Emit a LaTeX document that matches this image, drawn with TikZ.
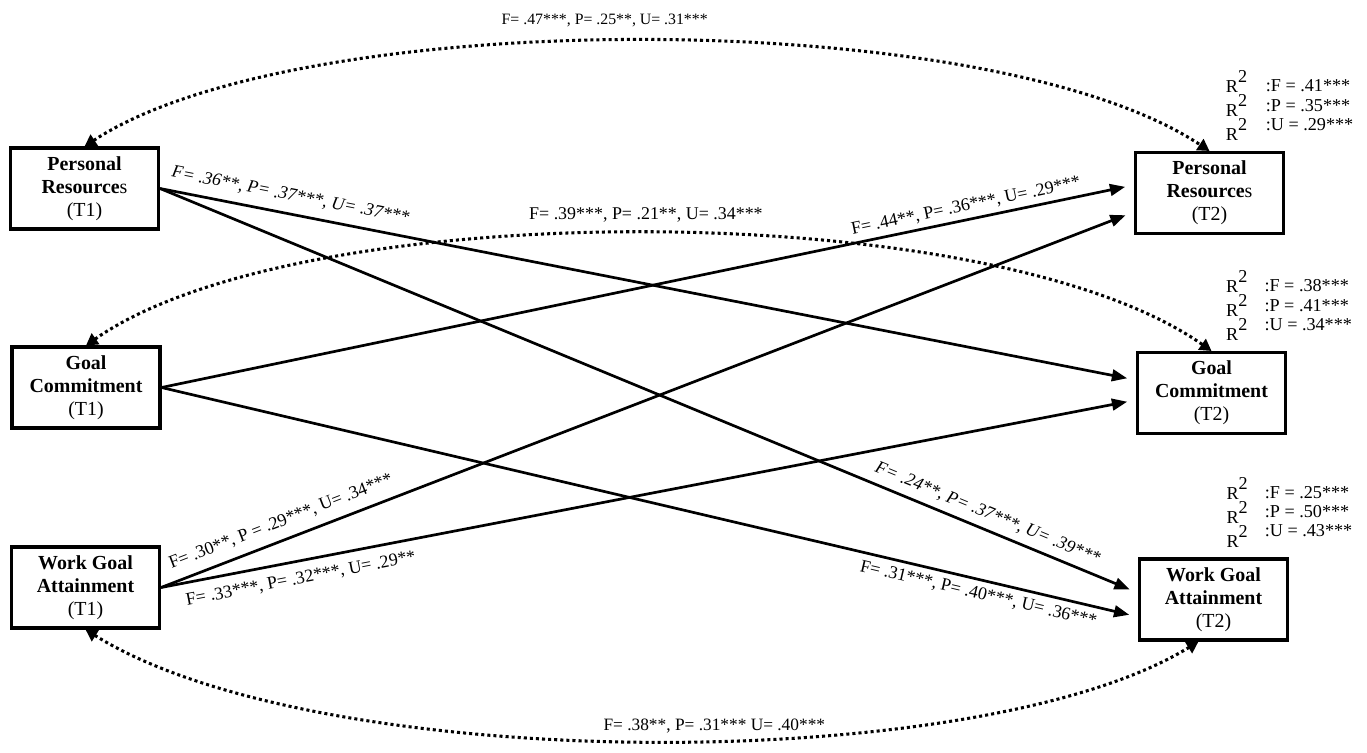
\documentclass[tikz,border=0pt]{standalone}
\usepackage{fontspec}
\setmainfont{Liberation Serif}
\usetikzlibrary{arrows.meta}

\begin{document}
\begin{tikzpicture}[x=0.03cm, y=-0.03cm,
  box/.style={draw, line width=2.6pt, minimum width=4.44cm, minimum height=2.43cm,
    align=center, inner sep=0pt, font=\fontsize{17}{19.6}\selectfont},
  effect/.style={line width=2.3pt, -{Triangle[length=13pt,width=10pt]}, shorten >=0.27cm},
  cov/.style={line width=2.6pt, dash pattern=on 2.6pt off 2.6pt,
    {Triangle[length=10pt,width=11pt]}-{Triangle[length=10pt,width=11pt]}},
  coef/.style={inner sep=0pt, font=\fontsize{15.3}{18}\selectfont},
  rsq/.style={inner sep=0pt, align=left, anchor=south west}]
\useasboundingbox (0,0) rectangle (1367,752);

% Time 1
\node[box] (PR1) at (84.5,188.5) {\textbf{Personal}\\\textbf{Resource}s\\(T1)};
\node[box] (GC1) at (86,387.5) {\textbf{Goal}\\\textbf{Commitment}\\(T1)};
\node[box] (WGA1) at (85.5,587.5) {\textbf{Work Goal}\\\textbf{Attainment}\\(T1)};

% Time 2
\node[box] (PR2) at (1209.5,193) {\textbf{Personal}\\\textbf{Resource}s\\(T2)};
\node[box] (GC2) at (1211.5,393) {\textbf{Goal}\\\textbf{Commitment}\\(T2)};
\node[box] (WGA2) at (1213.5,599.5) {\textbf{Work Goal}\\\textbf{Attainment}\\(T2)};

% Explained variance
\node[rsq, font=\fontsize{15.5}{20.5}\selectfont] (PR2r) at ([xshift=2.75cm,yshift=0.3cm]PR2.north west)
  {R\raisebox{0.55em}{2}\\R\raisebox{0.55em}{2}\\R\raisebox{0.55em}{2}};
\node[rsq, font=\fontsize{15.5}{16.6}\selectfont] (PR2v) at ([xshift=3.95cm,yshift=0.6cm]PR2.north west)
  {:F = .41***\\:P = .35***\\:U = .29***};
\node[rsq, font=\fontsize{15.5}{20.5}\selectfont] (GC2r) at ([xshift=2.7cm,yshift=0.3cm]GC2.north west)
  {R\raisebox{0.55em}{2}\\R\raisebox{0.55em}{2}\\R\raisebox{0.55em}{2}};
\node[rsq, font=\fontsize{15.5}{16.6}\selectfont] (GC2v) at ([xshift=3.85cm,yshift=0.6cm]GC2.north west)
  {:F = .38***\\:P = .41***\\:U = .34***};
\node[rsq, font=\fontsize{15.5}{20.5}\selectfont] (WGA2r) at ([xshift=2.65cm,yshift=0.3cm]WGA2.north west)
  {R\raisebox{0.55em}{2}\\R\raisebox{0.55em}{2}\\R\raisebox{0.55em}{2}};
\node[rsq, font=\fontsize{15.5}{16.6}\selectfont] (WGA2v) at ([xshift=3.8cm,yshift=0.6cm]WGA2.north west)
  {:F = .25***\\:P = .50***\\:U = .43***};

% Cross-lagged paths
\draw[effect] (PR1.east) -- ([yshift=0.39cm]GC2.west)
  node[coef, pos=0.13, sloped, above=8pt] {\itshape F= .36**, P= .37***, U= .37***};
\draw[effect] (PR1.east) -- ([yshift=0.2cm]WGA2.west)
  node[coef, pos=0.84, sloped, above=6pt] {\itshape F= .24**, P= .37***, U= .39***};
\draw[effect] (GC1.east) -- ([yshift=0.24cm]PR2.west)
  node[coef, pos=0.83, sloped, above=4pt] {F= .44**, P= .36***, U= .29***};
\draw[effect] (GC1.east) -- ([yshift=-0.52cm]WGA2.west)
  node[coef, pos=0.84, sloped, below=5pt] {F= .31***, P= .40***, U= .36***};
\draw[effect] (WGA1.east) -- ([yshift=-0.57cm]PR2.west)
  node[coef, pos=0.13, sloped, above=8pt] {F= .30**, P = .29***, U= .34***};
\draw[effect] (WGA1.east) -- ([yshift=-0.21cm]GC2.west)
  node[coef, pos=0.14, sloped, below=8pt] {F= .33***, P= .32***, U= .29**};

% Stability paths
\draw[cov] (PR1.north) .. controls (300,5) and (990,5) .. (PR2.north)
  node[coef, pos=0.47, above=11pt, font=\fontsize{13.5}{16}\selectfont] {F= .47***, P= .25**, U= .31***};
\draw[cov] (GC1.north) .. controls (300,195) and (990,195) .. (GC2.north)
  node[coef, pos=0.5, above=8pt] {F= .39***, P= .21**, U= .34***};
\draw[cov] (WGA1.south) .. controls (320,776) and (980,776) .. ([xshift=-0.45cm]WGA2.south)
  node[coef, pos=0.55, above=5pt, font=\fontsize{14.8}{17}\selectfont] {F= .38**, P= .31*** U= .40***};
\end{tikzpicture}
\end{document}
